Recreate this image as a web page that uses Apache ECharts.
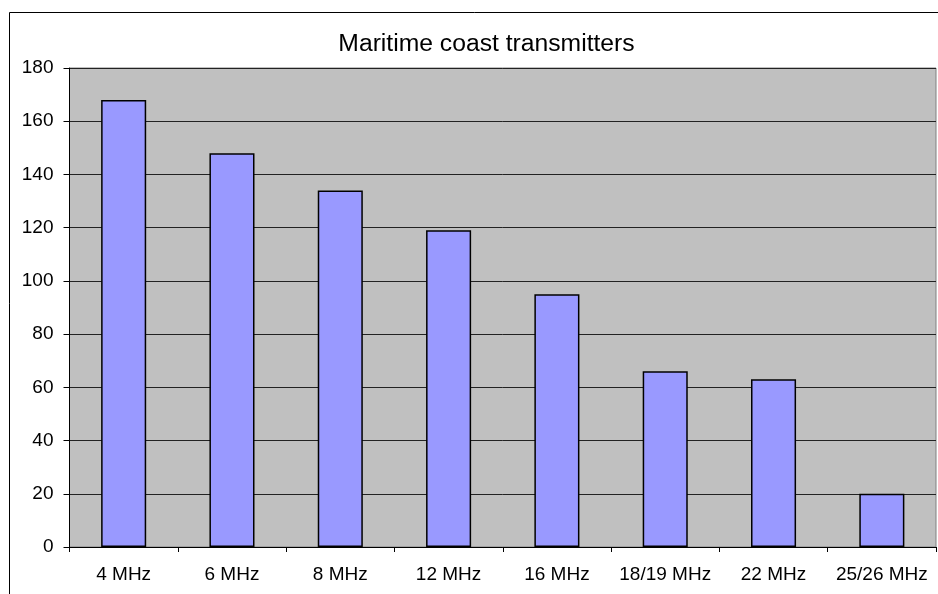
<!DOCTYPE html>
<html>
<head>
<meta charset="utf-8">
<script src="https://cdn.jsdelivr.net/npm/echarts@6/dist/echarts.min.js"></script>
<style>
  html, body { margin: 0; padding: 0; background: #fff; }
  #chart { width: 938px; height: 594px; }
</style>
</head>
<body>
<div id="chart"></div>
<script>
// Number of maritime coast transmitters per HF band
const bands = ['4 MHz', '6 MHz', '8 MHz', '12 MHz', '16 MHz', '18/19 MHz', '22 MHz', '25/26 MHz'];
const transmitters = [168, 148, 134, 119, 95, 66, 63, 20];
const yTicks = [0, 20, 40, 60, 80, 100, 120, 140, 160, 180];

const font = '"Liberation Sans", Arial, sans-serif';
const chart = echarts.init(document.getElementById('chart'), null, { renderer: 'canvas' });

chart.setOption({
  animation: false,
  backgroundColor: '#ffffff',
  title: {
    text: 'Maritime coast transmitters',
    left: 481.5,
    textAlign: 'center',
    top: 27,
    textStyle: { fontFamily: font, fontSize: 24.7, fontWeight: 'normal', color: '#000' }
  },
  graphic: [{
    type: 'rect',
    shape: { x: 9.5, y: 12.5, width: 1200, height: 1200 },
    style: { fill: 'none', stroke: '#000', lineWidth: 1 },
    silent: true,
    z: 100
  }],
  grid: {
    left: 69.5, top: 68, right: 2, bottom: 47,
    show: true,
    backgroundColor: '#C0C0C0',
    borderColor: '#808080',
    borderWidth: 1
  },
  xAxis: {
    type: 'category',
    data: bands,
    axisLine: { show: true, lineStyle: { color: '#000', width: 1 } },
    axisTick: { show: true, interval: 0, length: 5, alignWithLabel: false, lineStyle: { color: '#000' } },
    axisLabel: { interval: 0, margin: 18, fontFamily: font, fontSize: 19, color: '#000' },
    splitLine: { show: false }
  },
  yAxis: {
    type: 'value',
    min: yTicks[0],
    max: yTicks[yTicks.length - 1],
    interval: yTicks[1] - yTicks[0],
    axisLine: { show: true, lineStyle: { color: '#000', width: 1 } },
    axisTick: { show: true, length: 6, lineStyle: { color: '#000' } },
    axisLabel: { margin: 16, fontFamily: font, fontSize: 19, color: '#000' },
    splitLine: { show: true, lineStyle: { color: '#222', width: 1 } }
  },
  series: [{
    type: 'bar',
    data: transmitters,
    barWidth: '41.6%',
    itemStyle: { color: '#9999FF', borderColor: '#000', borderWidth: 1.5 }
  }]
});
</script>
</body>
</html>
